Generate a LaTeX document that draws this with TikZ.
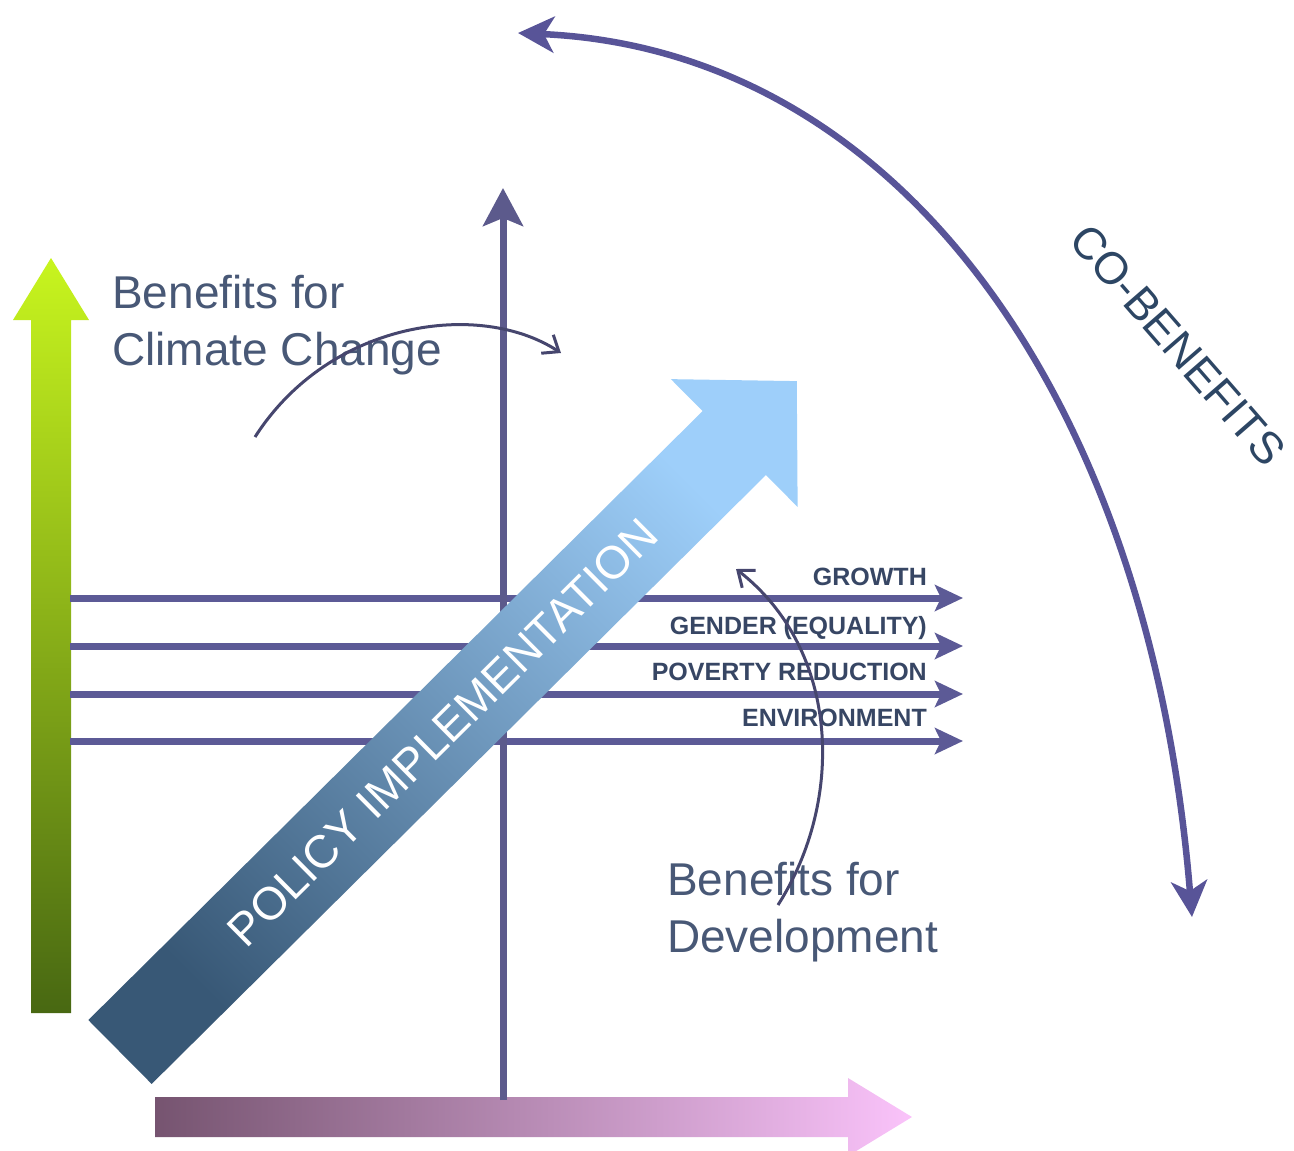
\documentclass[tikz,border=0pt]{standalone}
\usepackage{fontspec}
\setmainfont{Liberation Sans}
\usetikzlibrary{arrows.meta}
\definecolor{axiscol}{RGB}{92,90,140}
\definecolor{linecol}{RGB}{92,90,150}
\definecolor{curvecol}{RGB}{88,84,152}
\definecolor{thincol}{RGB}{70,70,110}
\definecolor{labelcol}{RGB}{55,70,100}
\definecolor{textcol}{RGB}{72,88,118}
\definecolor{cobcol}{RGB}{45,70,100}
\definecolor{greentop}{RGB}{200,245,30}
\definecolor{greenbot}{RGB}{72,104,18}
\definecolor{pinkl}{RGB}{118,84,112}
\definecolor{pinkr}{RGB}{250,195,250}
\definecolor{bluedark}{RGB}{56,88,118}
\definecolor{bluemid}{RGB}{82,140,205}
\definecolor{bluelight}{RGB}{158,207,250}
\begin{document}
\begin{tikzpicture}[x=1pt,y=-1pt,
  hline/.style={draw=linecol, line width=7pt, -{Stealth[length=28pt,width=26pt,inset=6pt]}},
  vaxis/.style={draw=axiscol, line width=7pt, -{Stealth[length=38pt,width=40pt,inset=8pt]}},
  bigcurve/.style={draw=curvecol, line width=6.5pt, {Stealth[length=36pt,width=36pt,inset=10pt]}-{Stealth[length=36pt,width=36pt,inset=10pt]}},
  thincurve/.style={draw=thincol, line width=3pt, -{Straight Barb[length=14pt,width=22pt]}},
  lbl/.style={font=\fontsize{25}{25}\selectfont\bfseries, text=labelcol, inner sep=0pt, anchor=base east},
  bigtext/.style={font=\fontsize{46}{46}\selectfont, text=textcol, inner sep=0pt, anchor=base west}]
\useasboundingbox (0,0) rectangle (1294,1151);

% green vertical arrow
\shade[top color=greentop, bottom color=greenbot]
  (31,1013) -- (31,320) -- (13,320) -- (51,258) -- (89,320) -- (71,320) -- (71,1013) -- cycle;

% pink horizontal arrow
\shade[left color=pinkl, right color=pinkr]
  (155,1097) -- (848,1097) -- (848,1078) -- (912,1117) -- (848,1156) -- (848,1137) -- (155,1137) -- cycle;

% horizontal lines
\foreach \yy/\nm in {598/la,646/lb,694/lc,741/ld}{
  \coordinate (\nm s) at (70,\yy);
  \coordinate (\nm e) at (963,\yy);
  \draw[hline] (\nm s) -- (\nm e);
}

% vertical axis
\coordinate (vs) at (503,1100);
\coordinate (ve) at (503,188);
\draw[vaxis] (vs) -- (ve);

% diagonal policy arrow
\begin{scope}[shift={(120,1052)}, rotate=44.75]
  \coordinate (pA) at (0,-45);
  \coordinate (pC) at (865,-45);
  \coordinate (pD) at (865,-90);
  \coordinate (pP) at (953,0);
  \coordinate (pE) at (865,90);
  \coordinate (pF) at (865,45);
  \coordinate (pB) at (0,45);
  \coordinate (pT) at (454,0);
\end{scope}
\shade[bottom color=bluedark, middle color=bluemid, top color=bluelight, shading angle=-45]
  (pA) -- (pC) -- (pD) -- (pP) -- (pE) -- (pF) -- (pB) -- cycle;
\node[rotate=44.75, text=white, font=\fontsize{46}{46}\selectfont, inner sep=0pt] (pol) at (pT) {POLICY IMPLEMENTATION};

% labels
\node[lbl] (growth) at (927,585) {GROWTH};
\node[lbl] (gender) at (927,634) {GENDER (EQUALITY)};
\node[lbl] (poverty) at (927,680) {POVERTY REDUCTION};
\node[lbl] (env) at (927,726) {ENVIRONMENT};

% big texts
\node[bigtext] (cc1) at (112,308) {Benefits for};
\node[bigtext] (cc2) at (112,365) {Climate Change};
\node[bigtext] (dv1) at (667,895) {Benefits for};
\node[bigtext] (dv2) at (667,952) {Development};

% thin curved arrows
\coordinate (c1s) at (255,437);
\coordinate (c1e) at (561,353);
\draw[thincurve] (c1s) .. controls (330,320) and (480,300) .. (c1e);
\coordinate (c2s) at (778,905);
\coordinate (c2e) at (736,569);
\draw[thincurve] (c2s) .. controls (845,800) and (840,650) .. (c2e);

% big co-benefits curve
\coordinate (bs) at (518,33);
\coordinate (be) at (1192,917);
\draw[bigcurve] (bs) .. controls (900,50) and (1150,400) .. (be);

\node[rotate=-49, text=cobcol, font=\fontsize{45}{45}\selectfont, inner sep=0pt] (cob) at (1178,345) {CO-BENEFITS};
\end{tikzpicture}
\end{document}
